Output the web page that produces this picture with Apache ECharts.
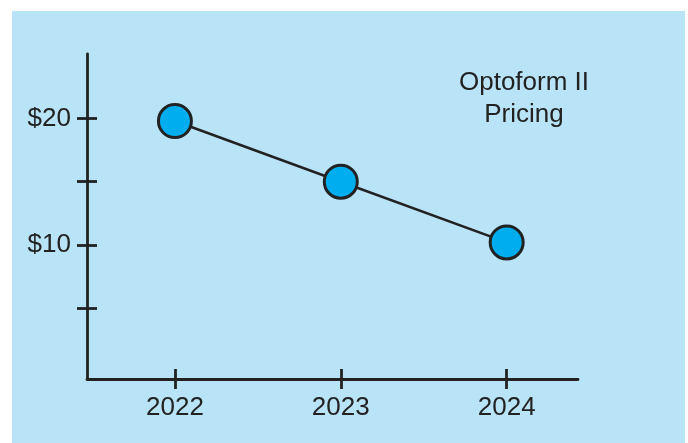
<!DOCTYPE html>
<html>
<head>
<meta charset="utf-8">
<script src="https://cdn.jsdelivr.net/npm/echarts@6/dist/echarts.min.js"></script>
<style>
  html, body { margin: 0; padding: 0; background: #fff; }
  #chart { width: 688px; height: 443px; }
</style>
</head>
<body>
<div id="chart"></div>
<script>
// chart data
var years = ['2022', '2023', '2024']
var prices = [19.8, 15.0, 10.2]
var yTicks = [5, 10, 15, 20]
var yLabels = [10, 20]
var titleLines = ['Optoform II', 'Pricing']

var ink = '#222222'
var font = '"Liberation Sans", Arial, sans-serif'
var chart = echarts.init(document.getElementById('chart'))

var points = prices.map(function(v, i) {
  return [i, v]
})
var xIdx = years.map(function(v, i) {
  return i
})

var yBase = {
  type: 'value',
  min: -0.6,
  max: 25.1,
  splitLine: { show: false }
}
var xBase = {
  type: 'value',
  min: -0.53,
  max: 2.43,
  splitLine: { show: false }
}

chart.setOption({
  backgroundColor: '#ffffff',
  animation: false,
  graphic: [{
    type: 'rect',
    z: -10,
    shape: { x: 12, y: 11, width: 673, height: 432 },
    style: { fill: '#b9e4f8' }
  }, {
    type: 'text',
    x: 524,
    y: 67,
    style: {
      text: titleLines.join('\n'),
      fill: ink,
      fontSize: 26,
      fontFamily: font,
      textAlign: 'center',
      lineHeight: 32
    }
  }],
  grid: {
    left: 87,
    top: 54,
    width: 491,
    height: 325
  },
  xAxis: [Object.assign({}, xBase, {
    axisLine: { onZero: false, lineStyle: { color: ink, width: 2.8 } },
    axisTick: { show: true, length: 10, customValues: xIdx, lineStyle: { color: ink, width: 2.8 } },
    axisLabel: {
      customValues: xIdx,
      margin: 16,
      color: ink,
      fontSize: 26,
      fontFamily: font,
      formatter: function(v) { return years[Math.round(v)] }
    }
  }), Object.assign({}, xBase, {
    position: 'bottom',
    axisLine: { show: false, onZero: false },
    axisTick: { show: true, inside: true, length: 10, customValues: xIdx, lineStyle: { color: ink, width: 2.8 } },
    axisLabel: { show: false }
  })],
  yAxis: [Object.assign({}, yBase, {
    axisLine: { show: true, onZero: false, lineStyle: { color: ink, width: 2.8 } },
    axisTick: { show: true, length: 10, customValues: yTicks, lineStyle: { color: ink, width: 2.8 } },
    axisLabel: {
      customValues: yLabels,
      margin: 16,
      color: ink,
      fontSize: 26,
      fontFamily: font,
      formatter: '${value}'
    }
  }), Object.assign({}, yBase, {
    position: 'left',
    axisLine: { show: false, onZero: false },
    axisTick: { show: true, inside: true, length: 10, customValues: yTicks, lineStyle: { color: ink, width: 2.8 } },
    axisLabel: { show: false }
  })],
  series: [{
    type: 'line',
    data: points,
    symbol: 'circle',
    symbolSize: 33,
    lineStyle: { color: ink, width: 2.5 },
    itemStyle: { color: '#00aeef', borderColor: ink, borderWidth: 3 },
    z: 5
  }]
})
</script>
</body>
</html>
